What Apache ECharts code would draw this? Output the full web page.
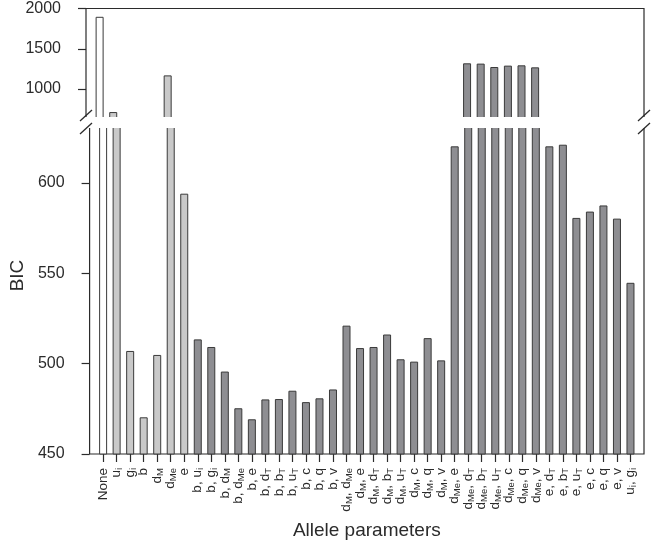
<!DOCTYPE html>
<html>
<head>
<meta charset="utf-8">
<script src="https://cdn.jsdelivr.net/npm/echarts@6.0.0/dist/echarts.min.js"></script>
<style>
  html, body { margin: 0; padding: 0; background: #fff; }
  #chart { width: 653px; height: 545px; }
</style>
</head>
<body>
<div id="chart"></div>
<script>
// category labels, {s|..} marks a subscript
const categories = [
  'None', 'u{s|i}', 'g{s|i}', 'b', 'd{s|M}', 'd{s|Me}', 'e',
  'b, u{s|i}', 'b, g{s|i}', 'b, d{s|M}', 'b, d{s|Me}', 'b, e', 'b, d{s|T}', 'b, b{s|T}', 'b, u{s|T}', 'b, c', 'b, q', 'b, v',
  'd{s|M}, d{s|Me}', 'd{s|M}, e', 'd{s|M}, d{s|T}', 'd{s|M}, b{s|T}', 'd{s|M}, u{s|T}', 'd{s|M}, c', 'd{s|M}, q', 'd{s|M}, v',
  'd{s|Me}, e', 'd{s|Me}, d{s|T}', 'd{s|Me}, b{s|T}', 'd{s|Me}, u{s|T}', 'd{s|Me}, c', 'd{s|Me}, q', 'd{s|Me}, v',
  'e, d{s|T}', 'e, b{s|T}', 'e, u{s|T}', 'e, c', 'e, q', 'e, v',
  'u{s|i}, g{s|i}'
]
const bic = [
  1897, 715, 507, 470.3, 504.8, 1170, 594,
  513.4, 509.2, 495.6, 475.3, 469.2, 480.2, 480.4, 485.0, 478.7, 480.8, 485.7,
  521.0, 508.6, 509.2, 516.1, 502.4, 501.1, 514.1, 501.8,
  620.2, 1320, 1316, 1274, 1291, 1295, 1270,
  620.2, 621.1, 580.6, 584.1, 587.5, 580.2,
  544.7
]
// 0 = no parameter, 1 = single parameter, 2 = pair
const kind = [0, 1, 1, 1, 1, 1, 1].concat(new Array(33).fill(2))
const kindColors = ['#ffffff', '#c9c9c9', '#8e8e92']

const lowerTicks = [450, 500, 550, 600]
const upperTicks = [1000, 1500, 2000]
const lowerRange = [450, 632]
const upperRange = [604, 2000]

const FONT = '"Liberation Sans", Arial, sans-serif'
const INK = '#2b2b2b'

// pad one empty slot at each end so the first/last bar sit one step from the frame
const padCats = [''].concat(categories, [''])
const toItem = (v, i) => ({ value: v, itemStyle: { color: kindColors[kind[i]] } })
const lowerData = ['-'].concat(bic.map(toItem), ['-'])
const upperData = ['-'].concat(bic.map((v, i) => v > lowerRange[1] ? toItem(v, i) : '-'), ['-'])

const barStyle = { borderColor: '#3a3a3a', borderWidth: 1 }

const chart = echarts.init(document.getElementById('chart'))

// break marks on the left and right frame
const breakMarks = []
;[86, 644].forEach(x => {
  breakMarks.push({
    type: 'rect', z: 100,
    shape: { x: x - 3, y: 117, width: 6, height: 11 },
    style: { fill: '#fff' }
  })
  ;[[110, 121], [123, 134]].forEach(([y1, y2]) => {
    breakMarks.push({
      type: 'line', z: 101,
      shape: { x1: x - 6, y1: y2, x2: x + 6, y2: y1 },
      style: { stroke: INK, lineWidth: 1.3 }
    })
  })
})
// white gap across the bars
breakMarks.push({
  type: 'rect', z: 99,
  shape: { x: 87, y: 117, width: 556, height: 11 },
  style: { fill: '#fff' }
})

const plain = v => String(v)

chart.setOption({
  animation: false,
  backgroundColor: '#fff',
  textStyle: { fontFamily: FONT, color: INK },
  grid: [
    { left: 86, right: 9, top: 125, bottom: 88, show: true, borderColor: INK, borderWidth: 1.2, backgroundColor: 'transparent' },
    { left: 86, right: 9, top: 8.5, bottom: 424, show: true, borderColor: INK, borderWidth: 1.2, backgroundColor: 'transparent' }
  ],
  xAxis: [
    {
      type: 'category', gridIndex: 0, data: padCats, boundaryGap: false,
      axisLine: { show: false },
      axisTick: {
        show: true, length: 8, interval: (idx) => idx > 0 && idx < padCats.length - 1,
        lineStyle: { color: INK, width: 1.2 }
      },
      axisLabel: {
        interval: 0, rotate: 90, margin: 14, fontSize: 13.5, color: INK, fontFamily: FONT,
        lineHeight: 16,
        rich: {
          s: { fontSize: 9.5, lineHeight: 6, verticalAlign: 'bottom', color: INK, fontFamily: FONT }
        }
      },
      name: 'Allele parameters', nameLocation: 'middle', nameGap: 67,
      nameTextStyle: { fontSize: 19, color: INK, fontFamily: FONT }
    },
    { type: 'category', gridIndex: 1, data: padCats, boundaryGap: false, show: false }
  ],
  yAxis: [
    {
      type: 'value', gridIndex: 0, min: lowerRange[0], max: lowerRange[1],
      splitLine: { show: false }, axisLine: { show: false },
      axisTick: { show: true, length: 8, customValues: lowerTicks, lineStyle: { color: INK, width: 1.2 } },
      axisLabel: { customValues: lowerTicks, formatter: plain, margin: 25, fontSize: 16, color: INK, fontFamily: FONT },
      name: 'BIC', nameLocation: 'middle', nameGap: 58, nameRotate: 90,
      nameTextStyle: { fontSize: 19, color: INK, fontFamily: FONT, padding: [0, 0, 0, 28] }
    },
    {
      type: 'value', gridIndex: 1, min: upperRange[0], max: upperRange[1],
      splitLine: { show: false }, axisLine: { show: false },
      axisTick: { show: true, length: 8, customValues: upperTicks, lineStyle: { color: INK, width: 1.2 } },
      axisLabel: { customValues: upperTicks, formatter: plain, margin: 25, fontSize: 16, color: INK, fontFamily: FONT }
    }
  ],
  series: [
    { type: 'bar', xAxisIndex: 0, yAxisIndex: 0, data: lowerData, barWidth: 8, clip: true, itemStyle: barStyle },
    { type: 'bar', xAxisIndex: 1, yAxisIndex: 1, data: upperData, barWidth: 8, clip: true, itemStyle: barStyle }
  ],
  graphic: breakMarks
})
</script>
</body>
</html>
